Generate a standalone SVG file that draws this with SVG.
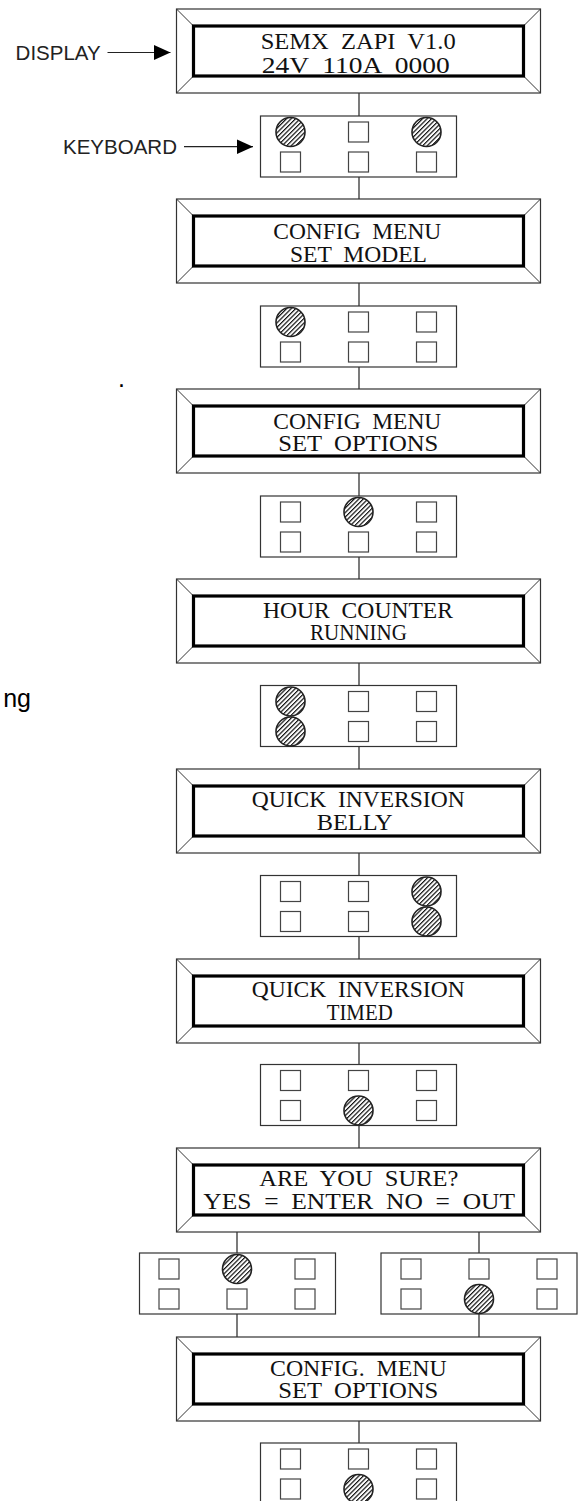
<svg xmlns="http://www.w3.org/2000/svg" xmlns:xlink="http://www.w3.org/1999/xlink" width="581" height="1501" viewBox="0 0 581 1501">
<style>
.outer{fill:#fff;stroke:#333;stroke-width:1.2}
.bevel{stroke:#333;stroke-width:1}
.inner{fill:#fff;stroke:#000;stroke-width:3.2}
.lcd{font-family:"Liberation Serif",serif;font-size:23px;fill:#111;white-space:pre}
.kb{fill:#fff;stroke:#333;stroke-width:1.2}
.key{fill:#fff;stroke:#444;stroke-width:1.2}
.pressed{fill:url(#hatch);stroke:#222;stroke-width:1.6}
.conn{stroke:#222;stroke-width:1.2;fill:none}
.lbl{font-family:"Liberation Sans",Arial,sans-serif;font-size:21px;fill:#222}
.stray{font-family:"Liberation Sans",Arial,sans-serif;font-size:25px;fill:#000}
</style>
<defs>
<pattern id="hatch" width="3.2" height="3.2" patternUnits="userSpaceOnUse" patternTransform="rotate(45)">
<rect width="3.2" height="3.2" fill="#fff"/>
<line x1="0.6" y1="0" x2="0.6" y2="3.2" stroke="#111" stroke-width="1.2"/>
</pattern>
<marker id="arr" markerUnits="userSpaceOnUse" markerWidth="18" markerHeight="16" refX="16.5" refY="7.5" orient="auto">
<path d="M0,0 L16.5,7.5 L0,15 z" fill="#000"/>
</marker>
<rect id="sq" width="20" height="20" class="key"/>
<circle id="pk" r="14.5" class="pressed"/>
<g id="bev">
<line class="bevel" x1="176.5" y1="0" x2="193.5" y2="17"/>
<line class="bevel" x1="540.5" y1="0" x2="523.5" y2="17"/>
<line class="bevel" x1="540.5" y1="84" x2="523.5" y2="67"/>
<line class="bevel" x1="176.5" y1="84" x2="193.5" y2="67"/>
</g>
</defs>
<rect width="581" height="1501" fill="#fff"/>

<g id="connectors">
<line class="conn" x1="359" y1="93" x2="359" y2="116"/>
<line class="conn" x1="359" y1="177" x2="359" y2="199"/>
<line class="conn" x1="359" y1="283" x2="359" y2="306"/>
<line class="conn" x1="359" y1="367" x2="359" y2="389"/>
<line class="conn" x1="359" y1="473" x2="359" y2="496"/>
<line class="conn" x1="359" y1="557" x2="359" y2="579"/>
<line class="conn" x1="359" y1="663" x2="359" y2="685.5"/>
<line class="conn" x1="359" y1="746.5" x2="359" y2="769"/>
<line class="conn" x1="359" y1="853" x2="359" y2="875.5"/>
<line class="conn" x1="359" y1="936.5" x2="359" y2="959"/>
<line class="conn" x1="359" y1="1043" x2="359" y2="1064.5"/>
<line class="conn" x1="359" y1="1125.5" x2="359" y2="1148"/>
<line class="conn" x1="237" y1="1232" x2="237" y2="1253"/>
<line class="conn" x1="479" y1="1232" x2="479" y2="1253"/>
<line class="conn" x1="237" y1="1314" x2="237" y2="1337"/>
<line class="conn" x1="479" y1="1314" x2="479" y2="1337"/>
<line class="conn" x1="359" y1="1421" x2="359" y2="1443"/>
<line class="conn" x1="107.5" y1="52.5" x2="170.5" y2="52.5" marker-end="url(#arr)"/>
<line class="conn" x1="184" y1="146.7" x2="253" y2="146.7" marker-end="url(#arr)"/>
</g>

<g id="label-display"><text class="lbl" x="15.6" y="60" textLength="85" lengthAdjust="spacingAndGlyphs">DISPLAY</text></g>
<g id="label-keyboard"><text class="lbl" x="63" y="154" textLength="114" lengthAdjust="spacingAndGlyphs">KEYBOARD</text></g>
<g id="stray-text">
<text class="stray" x="118" y="387">.</text>
<text class="stray" x="31" y="707" text-anchor="end">ng</text>
</g>

<g id="display1">
<rect class="outer" x="176.5" y="9" width="364" height="84"/>
<use href="#bev" y="9"/>
<rect class="inner" x="193.5" y="26" width="330" height="50"/>
<text class="lcd" x="260.7" y="49" textLength="195" lengthAdjust="spacingAndGlyphs">SEMX  ZAPI  V1.0</text>
<text class="lcd" x="261.7" y="73" textLength="188" lengthAdjust="spacingAndGlyphs">24V  110A  0000</text>
</g>
<g id="keyboard1">
<rect class="kb" x="260.5" y="116" width="196" height="61"/>
<use href="#pk" x="290.5" y="132"/><use href="#sq" x="348.5" y="122"/><use href="#pk" x="426.5" y="132"/>
<use href="#sq" x="280.5" y="152"/><use href="#sq" x="348.5" y="152"/><use href="#sq" x="416.5" y="152"/>
</g>

<g id="display2">
<rect class="outer" x="176.5" y="199" width="364" height="84"/>
<use href="#bev" y="199"/>
<rect class="inner" x="193.5" y="216" width="330" height="50"/>
<text class="lcd" x="273.3" y="239.3" textLength="168" lengthAdjust="spacingAndGlyphs">CONFIG  MENU</text>
<text class="lcd" x="290" y="261.7" textLength="137" lengthAdjust="spacingAndGlyphs">SET  MODEL</text>
</g>
<g id="keyboard2">
<rect class="kb" x="260.5" y="306" width="196" height="61"/>
<use href="#pk" x="290.5" y="322"/><use href="#sq" x="348.5" y="312"/><use href="#sq" x="416.5" y="312"/>
<use href="#sq" x="280.5" y="342"/><use href="#sq" x="348.5" y="342"/><use href="#sq" x="416.5" y="342"/>
</g>

<g id="display3">
<rect class="outer" x="176.5" y="389" width="364" height="84"/>
<use href="#bev" y="389"/>
<rect class="inner" x="193.5" y="406" width="330" height="50"/>
<text class="lcd" x="273.3" y="428.5" textLength="168" lengthAdjust="spacingAndGlyphs">CONFIG  MENU</text>
<text class="lcd" x="278.3" y="451" textLength="160" lengthAdjust="spacingAndGlyphs">SET  OPTIONS</text>
</g>
<g id="keyboard3">
<rect class="kb" x="260.5" y="496" width="196" height="61"/>
<use href="#sq" x="280.5" y="502"/><use href="#pk" x="358.5" y="512"/><use href="#sq" x="416.5" y="502"/>
<use href="#sq" x="280.5" y="532"/><use href="#sq" x="348.5" y="532"/><use href="#sq" x="416.5" y="532"/>
</g>

<g id="display4">
<rect class="outer" x="176.5" y="579" width="364" height="84"/>
<use href="#bev" y="579"/>
<rect class="inner" x="193.5" y="596" width="330" height="50"/>
<text class="lcd" x="263" y="617.5" textLength="190" lengthAdjust="spacingAndGlyphs">HOUR  COUNTER</text>
<text class="lcd" x="310" y="640" textLength="97" lengthAdjust="spacingAndGlyphs">RUNNING</text>
</g>
<g id="keyboard4">
<rect class="kb" x="260.5" y="685.5" width="196" height="61"/>
<use href="#pk" x="290.5" y="701.5"/><use href="#sq" x="348.5" y="691.5"/><use href="#sq" x="416.5" y="691.5"/>
<use href="#pk" x="290.5" y="731.5"/><use href="#sq" x="348.5" y="721.5"/><use href="#sq" x="416.5" y="721.5"/>
</g>

<g id="display5">
<rect class="outer" x="176.5" y="769" width="364" height="84"/>
<use href="#bev" y="769"/>
<rect class="inner" x="193.5" y="786" width="330" height="50"/>
<text class="lcd" x="251.7" y="806.7" textLength="213" lengthAdjust="spacingAndGlyphs">QUICK  INVERSION</text>
<text class="lcd" x="316.7" y="830" textLength="76" lengthAdjust="spacingAndGlyphs">BELLY</text>
</g>
<g id="keyboard5">
<rect class="kb" x="260.5" y="875.5" width="196" height="61"/>
<use href="#sq" x="280.5" y="881.5"/><use href="#sq" x="348.5" y="881.5"/><use href="#pk" x="426.5" y="891.5"/>
<use href="#sq" x="280.5" y="911.5"/><use href="#sq" x="348.5" y="911.5"/><use href="#pk" x="426.5" y="921.5"/>
</g>

<g id="display6">
<rect class="outer" x="176.5" y="959" width="364" height="84"/>
<use href="#bev" y="959"/>
<rect class="inner" x="193.5" y="976" width="330" height="50"/>
<text class="lcd" x="251.7" y="996.7" textLength="213" lengthAdjust="spacingAndGlyphs">QUICK  INVERSION</text>
<text class="lcd" x="326.7" y="1020" textLength="66" lengthAdjust="spacingAndGlyphs">TIMED</text>
</g>
<g id="keyboard6">
<rect class="kb" x="260.5" y="1064.5" width="196" height="61"/>
<use href="#sq" x="280.5" y="1070.5"/><use href="#sq" x="348.5" y="1070.5"/><use href="#sq" x="416.5" y="1070.5"/>
<use href="#sq" x="280.5" y="1100.5"/><use href="#pk" x="358.5" y="1110.5"/><use href="#sq" x="416.5" y="1100.5"/>
</g>

<g id="display7">
<rect class="outer" x="176.5" y="1148" width="364" height="84"/>
<use href="#bev" y="1148"/>
<rect class="inner" x="193.5" y="1165" width="330" height="50"/>
<text class="lcd" x="259.3" y="1186" textLength="199" lengthAdjust="spacingAndGlyphs">ARE  YOU  SURE?</text>
<text class="lcd" x="203.3" y="1208.7" textLength="311.7" lengthAdjust="spacingAndGlyphs">YES  =  ENTER  NO  =  OUT</text>
</g>
<g id="keyboard7-yes">
<rect class="kb" x="139.5" y="1253" width="196" height="61"/>
<use href="#sq" x="159" y="1259"/><use href="#pk" x="237" y="1269"/><use href="#sq" x="295" y="1259"/>
<use href="#sq" x="159" y="1289"/><use href="#sq" x="227" y="1289"/><use href="#sq" x="295" y="1289"/>
</g>
<g id="keyboard7-no">
<rect class="kb" x="381" y="1253" width="196" height="61"/>
<use href="#sq" x="401" y="1259"/><use href="#sq" x="469" y="1259"/><use href="#sq" x="537" y="1259"/>
<use href="#sq" x="401" y="1289"/><use href="#pk" x="479" y="1299"/><use href="#sq" x="537" y="1289"/>
</g>

<g id="display8">
<rect class="outer" x="176.5" y="1337" width="364" height="84"/>
<use href="#bev" y="1337"/>
<rect class="inner" x="193.5" y="1354" width="330" height="50"/>
<text class="lcd" x="270" y="1375.5" textLength="176.7" lengthAdjust="spacingAndGlyphs">CONFIG.  MENU</text>
<text class="lcd" x="278.3" y="1398.2" textLength="160" lengthAdjust="spacingAndGlyphs">SET  OPTIONS</text>
</g>
<g id="keyboard8">
<rect class="kb" x="260.5" y="1443" width="196" height="61"/>
<use href="#sq" x="280.5" y="1449"/><use href="#sq" x="348.5" y="1449"/><use href="#sq" x="416.5" y="1449"/>
<use href="#sq" x="280.5" y="1479"/><use href="#pk" x="358.5" y="1489"/><use href="#sq" x="416.5" y="1479"/>
</g>
</svg>
